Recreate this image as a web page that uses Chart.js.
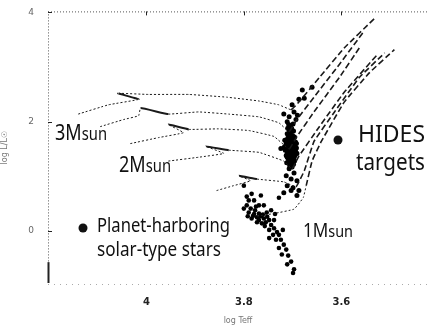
<!DOCTYPE html>
<html>
<head>
<meta charset="utf-8">
<script src="https://cdn.jsdelivr.net/npm/chart.js@4.4.1/dist/chart.umd.min.js"></script>
<style>
  html, body { margin: 0; padding: 0; background: #fff; }
</style>
</head>
<body>
<canvas id="hr" width="432" height="326"></canvas>
<script>
// evolutionary tracks, points are [log Teff, log L/Lsun]
const track1 = [[4.140, 2.14], [4.078, 2.31], [4.016, 2.41], [4.058, 2.52], [3.996, 2.50], [3.913, 2.50],
    [3.835, 2.45], [3.769, 2.38], [3.728, 2.31], [3.703, 2.22], [3.687, 2.36], [3.645, 2.81], [3.594, 3.35], [3.532, 3.89]];
const track2 = [[4.095, 1.91], [4.047, 2.04], [4.016, 2.11], [4.012, 2.25], [3.955, 2.14], [3.893, 2.18],
    [3.831, 2.14], [3.769, 2.09], [3.728, 1.98], [3.707, 1.82], [3.691, 2.04], [3.656, 2.45], [3.604, 3.05], [3.553, 3.66]];
const track3 = [[4.033, 1.60], [3.975, 1.71], [3.924, 1.80], [3.955, 1.95], [3.913, 1.86], [3.852, 1.87],
    [3.790, 1.84], [3.738, 1.73], [3.707, 1.50], [3.691, 1.73], [3.656, 2.18], [3.604, 2.81], [3.563, 3.35]];
const track4 = [[3.955, 1.28], [3.893, 1.35], [3.841, 1.42], [3.878, 1.55], [3.831, 1.48], [3.769, 1.44],
    [3.718, 1.28], [3.701, 1.14], [3.687, 1.37], [3.645, 1.91], [3.594, 2.54], [3.526, 3.23]];
const track5 = [[3.856, 0.74], [3.821, 0.83], [3.786, 0.92], [3.810, 1.01], [3.773, 0.95], [3.718, 0.90],
    [3.693, 0.81], [3.676, 1.10], [3.656, 1.64], [3.614, 2.18], [3.563, 2.81], [3.511, 3.26]];
const track6 = [[3.773, 0.27], [3.738, 0.32], [3.697, 0.40], [3.678, 0.61], [3.672, 0.83], [3.660, 1.28],
    [3.641, 1.64], [3.594, 2.36], [3.542, 2.90], [3.491, 3.32]];
// index where each track turns up the giant branch, and where its hook is
const rgbStart = [9, 9, 8, 7, 6, 4];
const hookAt = [2, 3, 3, 3, 3, -1];

const hidesStars = [
    [3.705, 1.80], [3.700, 1.75], [3.708, 1.72], [3.703, 1.68], [3.698, 1.66], [3.710, 1.64], [3.706, 1.62],
    [3.701, 1.60], [3.695, 1.58], [3.709, 1.57], [3.704, 1.55], [3.699, 1.53], [3.712, 1.52], [3.706, 1.50],
    [3.701, 1.48], [3.696, 1.47], [3.709, 1.45], [3.703, 1.43], [3.698, 1.41], [3.707, 1.39], [3.702, 1.37],
    [3.711, 1.35], [3.697, 1.34], [3.705, 1.32], [3.700, 1.30], [3.708, 1.28], [3.703, 1.25], [3.698, 1.22],
    [3.706, 1.20], [3.701, 1.17], [3.710, 1.70], [3.713, 1.60], [3.694, 1.63], [3.692, 1.52], [3.715, 1.48],
    [3.711, 1.42], [3.693, 1.44], [3.714, 1.56], [3.707, 1.85], [3.702, 1.88], [3.698, 1.83], [3.711, 1.78],
    [3.696, 1.72], [3.704, 1.92], [3.699, 1.96], [3.708, 1.95], [3.700, 1.69], [3.705, 1.58], [3.697, 1.55],
    [3.702, 1.46], [3.709, 1.33], [3.695, 1.38], [3.704, 1.74], [3.710, 1.88], [3.694, 1.49], [3.706, 1.27],
    [3.716, 1.66], [3.713, 1.38], [3.692, 1.60], [3.691, 1.42], [3.717, 1.54], [3.712, 1.25], [3.696, 1.28],
    [3.701, 2.31], [3.687, 2.41], [3.676, 2.43], [3.697, 2.18], [3.718, 2.14], [3.707, 2.09], [3.693, 2.04],
    [3.711, 2.00], [3.680, 2.58], [3.660, 2.63], [3.724, 1.51], [3.690, 2.12],
    [3.707, 1.14], [3.697, 1.06], [3.713, 1.01], [3.703, 0.95], [3.691, 0.92], [3.711, 0.83], [3.699, 0.79],
    [3.691, 0.65], [3.703, 0.74], [3.718, 0.70], [3.687, 0.74]
];
const solarStars = [
    [3.794, 0.47], [3.786, 0.41], [3.777, 0.38], [3.790, 0.34], [3.779, 0.31], [3.769, 0.32], [3.773, 0.25],
    [3.765, 0.27], [3.759, 0.23], [3.784, 0.23], [3.769, 0.20], [3.755, 0.16], [3.763, 0.14], [3.748, 0.20],
    [3.773, 0.16], [3.757, 0.09], [3.744, 0.11], [3.738, 0.05], [3.748, 0.02], [3.732, -0.02], [3.740, -0.07],
    [3.728, -0.07], [3.724, -0.16], [3.734, -0.16], [3.718, -0.25], [3.728, -0.31], [3.713, -0.34], [3.722, -0.43],
    [3.709, -0.45], [3.703, -0.56], [3.711, -0.61], [3.697, -0.70], [3.699, -0.77], [3.800, 0.41], [3.790, 0.56],
    [3.794, 0.63], [3.784, 0.68], [3.765, 0.65], [3.800, 0.83], [3.779, 0.56], [3.759, 0.47], [3.744, 0.38],
    [3.736, 0.31], [3.753, 0.34], [3.728, 0.61], [3.738, 0.20], [3.720, 0.02], [3.748, -0.13], [3.769, 0.47],
    [3.775, 0.45], [3.792, 0.27], [3.781, 0.28], [3.761, 0.30], [3.752, 0.26]
];

const xTicks = [4.0, 3.8, 3.6];
const yTicks = [4, 2, 0];

const toXY = arr => arr.map(p => ({ x: p[0], y: p[1] }));

const tracks = [track1, track2, track3, track4, track5, track6].map((t, i) => ({
    type: "line",
    data: toXY(t),
    showLine: true,
    borderColor: "#1a1a1a",
    borderWidth: 1,
    borderDash: [2, 2],
    pointRadius: 0,
    tension: 0.08,
    segment: {
        borderDash: c => c.p0DataIndex >= rgbStart[i] ? [6, 3] : (c.p0DataIndex === hookAt[i] ? [] : [2, 2]),
        borderWidth: c => c.p0DataIndex >= rgbStart[i] ? 1.6 : (c.p0DataIndex === hookAt[i] ? 2 : 1)
    }
}));

/** Надписи и маркеры, как на исходной картинке */
function drawLabel(ctx, parts, x, base, width) {
    let natural = 0;
    parts.forEach(p => { ctx.font = `${p.size}px "Noto Sans"`; natural += ctx.measureText(p.text).width; });
    ctx.save();
    ctx.translate(x, base);
    ctx.scale(width / natural, 1);
    let cx = 0;
    parts.forEach(p => {
        ctx.font = `${p.size}px "Noto Sans"`;
        ctx.fillText(p.text, cx, 0);
        cx += ctx.measureText(p.text).width;
    });
    ctx.restore();
}

const annotations = {
    id: "annotations",
    afterDraw(chart) {
        const { ctx, chartArea: a, scales: { x, y } } = chart;
        ctx.save();

        // dotted frame, as in the scan
        ctx.strokeStyle = "#555";
        ctx.lineWidth = 1;
        ctx.setLineDash([1, 2]);
        ctx.beginPath();
        ctx.moveTo(a.left, a.top + 0.5); ctx.lineTo(a.right, a.top + 0.5);
        ctx.moveTo(a.left + 0.5, a.top); ctx.lineTo(a.left + 0.5, a.bottom);
        ctx.stroke();
        ctx.strokeStyle = "#aaa";
        ctx.setLineDash([1, 5]);
        ctx.beginPath();
        ctx.moveTo(a.left, a.bottom + 0.5); ctx.lineTo(a.right, a.bottom + 0.5);
        ctx.stroke();
        ctx.setLineDash([]);
        ctx.strokeStyle = "#222";
        ctx.lineWidth = 2;
        ctx.beginPath();
        ctx.moveTo(a.left + 0.5, y.getPixelForValue(-0.57)); ctx.lineTo(a.left + 0.5, a.bottom - 1);
        ctx.stroke();
        ctx.lineWidth = 1;
        ctx.beginPath();
        xTicks.forEach(v => { const px = Math.round(x.getPixelForValue(v)) + 0.5; ctx.moveTo(px, a.top); ctx.lineTo(px, a.top + 4); });
        yTicks.forEach(v => { const py = Math.round(y.getPixelForValue(v)) + 0.5; ctx.moveTo(a.left, py); ctx.lineTo(a.left + 4, py); });
        ctx.stroke();

        // labels
        ctx.fillStyle = "#111";
        ctx.textBaseline = "alphabetic";
        ctx.textAlign = "left";
        drawLabel(ctx, [{ text: "3M", size: 22 }, { text: "sun", size: 18 }], 55, 140, 52);
        drawLabel(ctx, [{ text: "2M", size: 22 }, { text: "sun", size: 18 }], 119, 172, 52);
        drawLabel(ctx, [{ text: "1M", size: 19 }, { text: "sun", size: 16 }], 303, 237, 50);
        drawLabel(ctx, [{ text: "HIDES", size: 24 }], 358, 142, 67);
        drawLabel(ctx, [{ text: "targets", size: 24 }], 356, 170, 69);
        drawLabel(ctx, [{ text: "Planet-harboring", size: 19 }], 97, 232, 133);
        drawLabel(ctx, [{ text: "solar-type stars", size: 19 }], 97, 256, 124);

        ctx.beginPath(); ctx.arc(338, 140, 4.5, 0, Math.PI * 2); ctx.fill();
        ctx.beginPath(); ctx.arc(83, 228, 4.5, 0, Math.PI * 2); ctx.fill();
        ctx.restore();
    }
};

new Chart(document.getElementById("hr"), {
    type: "scatter",
    data: {
        datasets: [
            ...tracks,
            { data: toXY(hidesStars), backgroundColor: "#000", borderWidth: 0, pointRadius: 2.5 },
            { data: toXY(solarStars), backgroundColor: "#000", borderWidth: 0, pointRadius: 2.3 }
        ]
    },
    options: {
        responsive: false,
        animation: false,
        layout: { padding: { top: 10, right: 2, left: 0, bottom: 0 } },
        plugins: { legend: { display: false }, tooltip: { enabled: false } },
        scales: {
            x: {
                type: "linear",
                reverse: true,
                min: 3.422,
                max: 4.202,
                afterBuildTicks: s => { s.ticks = xTicks.map(v => ({ value: v })); },
                afterFit: s => { s.height = 42; },
                grid: { display: false },
                border: { display: false },
                ticks: {
                    padding: 4,
                    color: "#222",
                    font: { family: "DejaVu Sans", size: 10, weight: "bold" },
                    callback: v => v === 4 ? "4" : v.toFixed(1)
                },
                title: {
                    display: true,
                    text: "log Teff",
                    color: "#777",
                    font: { family: "DejaVu Sans", size: 8 },
                    padding: { top: 10, bottom: 0 }
                }
            },
            y: {
                type: "linear",
                min: -0.97,
                max: 4.02,
                afterBuildTicks: s => { s.ticks = yTicks.map(v => ({ value: v })); },
                afterFit: s => { s.width = 48; },
                grid: { display: false },
                border: { display: false },
                ticks: {
                    padding: 6,
                    color: "#666",
                    font: { family: "DejaVu Sans", size: 9 }
                },
                title: {
                    display: true,
                    text: "log L/L☉",
                    color: "#777",
                    font: { family: "DejaVu Sans", size: 8 },
                    padding: { top: 0, bottom: 4 }
                }
            }
        }
    },
    plugins: [annotations]
});
</script>
</body>
</html>
